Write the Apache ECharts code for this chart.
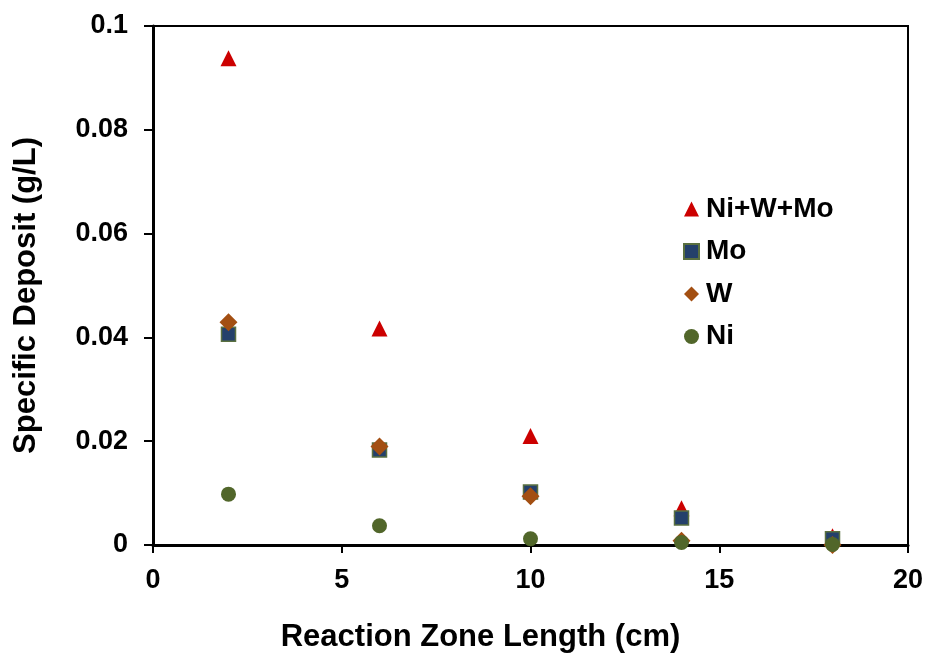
<!DOCTYPE html>
<html><head><meta charset="utf-8">
<script src="https://cdn.jsdelivr.net/npm/echarts@6/dist/echarts.min.js"></script>
<style>html,body{margin:0;padding:0;background:#fff}#c{width:929px;height:658px}</style>
</head><body><div id="c"></div>
<script>
var xValues = [2, 6, 10, 14, 18];
var niwmo = [0.0938, 0.0417, 0.0210, 0.0071, 0.0017];
var mo = [0.0406, 0.0183, 0.0102, 0.0052, 0.0012];
var w = [0.0429, 0.0190, 0.0094, 0.0008, 0.0000];
var ni = [0.0098, 0.0037, 0.0012, 0.0005, 0.0001];
var seriesNames = ['Ni+W+Mo', 'Mo', 'W', 'Ni'];
var xTitle = 'Reaction Zone Length (cm)';
var yTitle = 'Specific Deposit (g/L)';

function pts(arr){ return xValues.map(function(x,i){ return [x, arr[i]]; }); }
var font = 'Liberation Sans, Arial, sans-serif';
var chart = echarts.init(document.getElementById('c'));
chart.setOption({
  animation: false,
  backgroundColor: '#fff',
  grid: { left: 153, right: 21, top: 26, bottom: 110, show: true, borderColor: '#000', borderWidth: 2, backgroundColor: 'transparent' },
  legend: {
    orient: 'vertical', left: 683, top: 195, padding: 0, itemGap: 14.5, itemWidth: 15, itemHeight: 15,
    textStyle: { fontFamily: font, fontWeight: 'bold', fontSize: 28, lineHeight: 28, color: '#000', padding: [0,0,0,2] },
    data: seriesNames
  },
  xAxis: {
    type: 'value', min: 0, max: 20, interval: 5,
    name: xTitle, nameLocation: 'middle', nameGap: 77,
    nameTextStyle: { fontFamily: font, fontWeight: 'bold', fontSize: 31, color: '#000', padding: [0, 100, 0, 0] },
    axisLine: { show: true, lineStyle: { color: '#000', width: 3 } },
    axisTick: { show: true, length: 8, lineStyle: { color: '#000', width: 2 } },
    axisLabel: { fontFamily: font, fontWeight: 'bold', fontSize: 27, color: '#000', margin: 22 },
    splitLine: { show: false }
  },
  yAxis: {
    type: 'value', min: 0, max: 0.1, interval: 0.02,
    name: yTitle, nameLocation: 'middle', nameGap: 111, nameRotate: 90,
    nameTextStyle: { fontFamily: font, fontWeight: 'bold', fontSize: 31, color: '#000', padding: [0, 20, 0, 0] },
    axisLine: { show: true, lineStyle: { color: '#000', width: 3 } },
    axisTick: { show: true, length: 9, lineStyle: { color: '#000', width: 2 } },
    axisLabel: { fontFamily: font, fontWeight: 'bold', fontSize: 27, color: '#000', margin: 25,
      formatter: function(v){ return v === 0 ? '0' : String(+v.toFixed(2)); } },
    splitLine: { show: false }
  },
  series: [
    { name: seriesNames[0], type: 'scatter', symbol: 'triangle', symbolSize: 16, z: 2,
      itemStyle: { color: '#CC0000', opacity: 1 }, data: pts(niwmo) },
    { name: seriesNames[1], type: 'scatter', symbol: 'rect', symbolSize: 14, z: 3,
      itemStyle: { color: '#24406B', borderColor: '#5A7040', borderWidth: 1.5, opacity: 1 }, data: pts(mo) },
    { name: seriesNames[2], type: 'scatter', symbol: 'diamond', symbolSize: 18, z: 4,
      itemStyle: { color: '#A34F12', opacity: 1 }, data: pts(w) },
    { name: seriesNames[3], type: 'scatter', symbol: 'circle', symbolSize: 15, z: 5,
      itemStyle: { color: '#51662A', opacity: 1 }, data: pts(ni) }
  ]
});
</script></body></html>
